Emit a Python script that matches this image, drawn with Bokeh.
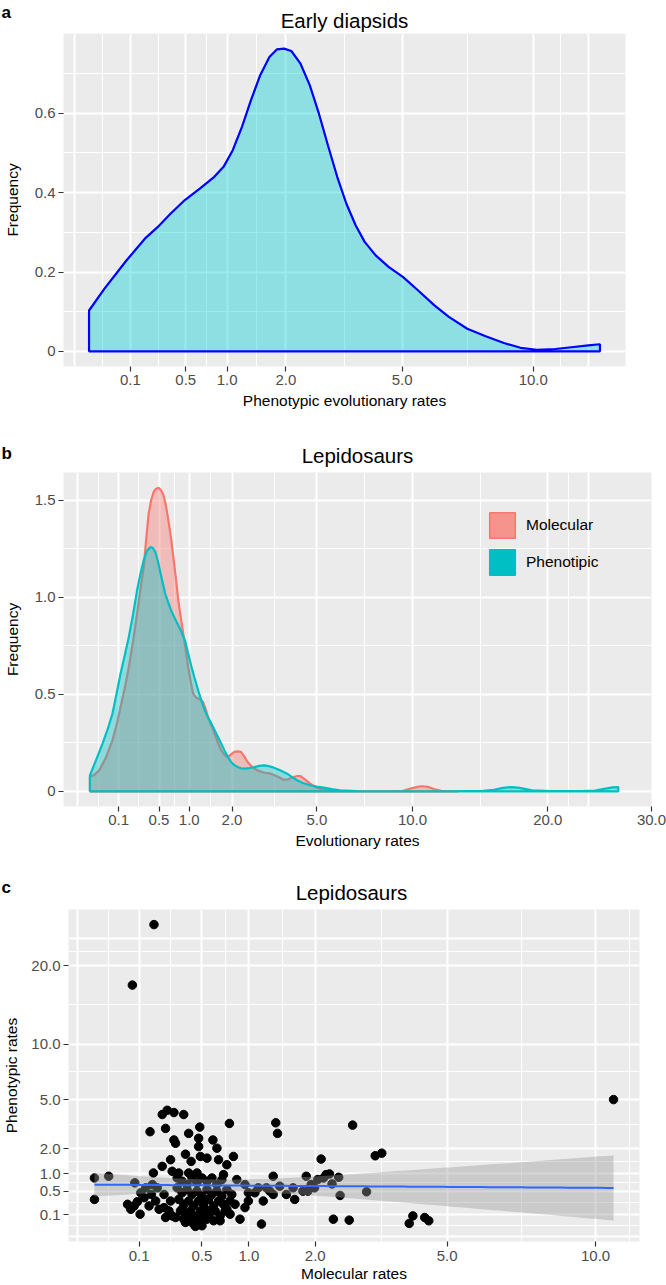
import numpy as np
from bokeh.plotting import figure
from bokeh.layouts import column
from bokeh.models import FixedTicker, CustomJSTickFormatter, Range1d, Legend, LegendItem
from bokeh.core.properties import value
from bokeh.embed import file_html
from bokeh.resources import INLINE

FONT = "Liberation Sans"

# ---------------- data ----------------
# (a) Early diapsids: density of phenotypic evolutionary rates
a_rate = [0.000576, 0.0177, 0.0829, 0.175, 0.258, 0.359, 0.494, 0.650, 0.826, 0.949,
          1.080, 1.219, 1.364, 1.520, 1.685, 1.823, 1.966, 2.111, 2.304, 2.506,
          2.716, 2.931, 3.158, 3.393, 3.637, 3.885, 4.198, 4.580, 5.031, 5.508,
          6.071, 6.584, 7.268, 7.986, 8.732, 9.437, 10.16, 11.01, 11.88, 12.61, 13.20]
a_freq = [0.103, 0.158, 0.229, 0.284, 0.313, 0.347, 0.382, 0.410, 0.440, 0.465,
          0.507, 0.566, 0.633, 0.696, 0.742, 0.761, 0.763, 0.757, 0.725, 0.671,
          0.599, 0.519, 0.440, 0.372, 0.318, 0.276, 0.242, 0.213, 0.187, 0.154,
          0.116, 0.087, 0.057, 0.038, 0.021, 0.009, 0.004, 0.006, 0.011, 0.015, 0.018]

# (b) Lepidosaurs: density of molecular and phenotypic rates
b_mol_rate = [0.00144, 0.0064, 0.0164, 0.0361, 0.0655, 0.090, 0.1122, 0.1406, 0.1722, 0.207,
              0.245, 0.2777, 0.3125, 0.3399, 0.3684, 0.3982, 0.429, 0.461, 0.4942, 0.5285,
              0.564, 0.6006, 0.6368, 0.6757, 0.7157, 0.7569, 0.7992, 0.8427, 0.8874, 0.9332,
              0.9801, 1.0282, 1.0774, 1.1278, 1.1794, 1.2321, 1.286, 1.341, 1.397, 1.474,
              1.5525, 1.633, 1.716, 1.798, 1.885, 1.974, 2.065, 2.158, 2.253, 2.350,
              2.449, 2.592, 2.759, 2.958, 3.201, 3.4225, 3.671, 3.842, 4.048, 4.182,
              4.310, 4.494, 4.718, 4.973, 5.29, 5.76, 6.864, 8.41, 9.425, 9.923,
              10.37, 10.63, 10.96, 11.36, 11.83, 12.96]
b_mol_freq = [0.074, 0.085, 0.108, 0.17, 0.263, 0.35, 0.435, 0.53, 0.641, 0.77,
              0.916, 1.04, 1.156, 1.3, 1.431, 1.5, 1.543, 1.56, 1.565, 1.552,
              1.526, 1.47, 1.397, 1.31, 1.208, 1.1, 0.985, 0.895, 0.813, 0.725,
              0.641, 0.565, 0.503, 0.485, 0.478, 0.472, 0.46, 0.425, 0.383, 0.34,
              0.297, 0.25, 0.211, 0.188, 0.177, 0.19, 0.203, 0.206, 0.203, 0.18,
              0.151, 0.125, 0.108, 0.097, 0.091, 0.078, 0.06, 0.062, 0.074, 0.079,
              0.079, 0.062, 0.04, 0.02, 0.009, 0.003, 0.0005, 0.0003, 0.003, 0.015,
              0.024, 0.026, 0.023, 0.012, 0.003, 0.0003]
b_phe_rate = [0.00144, 0.01, 0.0256, 0.0441, 0.0655, 0.087, 0.1122, 0.1406, 0.1722, 0.207,
              0.245, 0.2777, 0.3125, 0.3493, 0.3881, 0.4186, 0.4502, 0.483, 0.517, 0.552,
              0.5883, 0.6384, 0.6906, 0.743, 0.7992, 0.8575, 0.9178, 0.9801, 1.0445, 1.1109,
              1.1794, 1.25, 1.3225, 1.397, 1.4738, 1.5525, 1.633, 1.716, 1.798, 1.885,
              1.974, 2.065, 2.158, 2.253, 2.35, 2.496, 2.654, 2.812, 2.976, 3.133,
              3.312, 3.534, 3.795, 4.0, 4.178, 4.41, 4.718, 4.973, 5.29, 5.664,
              6.052, 6.864, 9.0, 12.25, 14.82, 15.6, 16.32, 17.02, 17.64, 18.66,
              20.25, 23.04, 24.3, 25.2, 26.01, 26.58]
b_phe_freq = [0.082, 0.165, 0.246, 0.32, 0.4, 0.5, 0.607, 0.7, 0.796, 0.91,
              1.036, 1.12, 1.191, 1.24, 1.259, 1.255, 1.234, 1.19, 1.131, 1.075,
              1.019, 0.97, 0.924, 0.89, 0.856, 0.82, 0.778, 0.71, 0.641, 0.58,
              0.521, 0.467, 0.418, 0.38, 0.349, 0.315, 0.28, 0.245, 0.211, 0.178,
              0.151, 0.135, 0.125, 0.119, 0.117, 0.12, 0.125, 0.131, 0.134, 0.13,
              0.122, 0.108, 0.091, 0.072, 0.057, 0.043, 0.031, 0.025, 0.019, 0.011,
              0.005, 0.001, 0.0003, 0.0003, 0.002, 0.008, 0.018, 0.022, 0.018, 0.005,
              0.0005, 0.0005, 0.004, 0.013, 0.02, 0.022]

# (c) Lepidosaurs: molecular vs phenotypic rates per branch
c_mol_rate = [0.167, 0.075, 10.72,
              0.0014, 0.0014, 0.0159, 0.0835, 0.0595, 0.0697, 0.0812, 0.1063, 0.1204, 0.1037,
              0.1429, 0.1756, 0.164, 0.1475, 0.2116, 0.2411, 0.2841, 0.3528, 0.2314, 0.2841,
              0.2948, 0.3906, 0.4816, 0.472, 0.472, 0.6022, 0.6416, 0.7726, 1.364, 1.39,
              0.2621, 0.366, 0.4096, 0.2116, 0.2725, 0.317, 0.3906, 0.4583, 0.5461, 0.4872,
              0.6577, 0.7448, 0.8172, 0.709, 0.8556, 0.2218, 0.2314, 0.2725, 0.366, 0.4303,
              0.5013, 0.5155, 0.7448, 0.893, 0.9526, 0.994, 1.077, 1.164, 1.188, 1.327,
              1.327, 1.523, 1.654, 1.844, 1.871, 1.121, 0.9526, 0.994, 1.232, 0.1274,
              0.1537, 0.093, 1.279, 1.423, 1.628, 1.788,
              0.306, 0.341, 0.378, 0.417, 0.458, 0.501, 0.546, 0.593, 0.641, 0.692,
              0.306, 0.341, 0.378, 0.417, 0.458, 0.501, 0.546, 0.593, 0.641, 0.692, 0.745, 0.799,
              0.317, 0.353, 0.391, 0.430, 0.472, 0.516, 0.561, 0.609, 0.658, 0.709, 0.780, 0.836,
              0.329, 0.366, 0.404, 0.445, 0.487, 0.531, 0.577, 0.624, 0.674, 0.726, 0.780,
              0.353, 0.404, 0.458, 0.487, 0.546, 0.609, 0.674, 0.445, 0.501,
              0.252, 0.295, 0.341, 0.391, 0.430, 0.472, 0.516, 0.561, 0.609, 0.194,
              0.262, 0.222, 0.184, 0.159,
              1.929, 1.988, 2.105, 2.149, 2.196, 2.259, 2.307, 2.434, 2.462, 2.713,
              3.007, 3.197, 3.345, 2.332, 2.644, 4.0, 4.092, 4.397, 4.503, 2.045]
c_phe_rate = [26.6, 17.2, 5.0,
              0.861, 0.325, 0.914, 0.716, 0.238, 0.164, 0.2125, 0.4638, 0.3576, 0.1043,
              0.2125, 0.2948, 1.022, 2.89, 3.948, 4.235, 4.08, 3.948, 3.08, 2.44,
              2.271, 2.796, 3.158, 2.528, 2.108, 2.44, 2.031, 3.378, 3.419, 2.796,
              1.518, 1.756, 1.45, 1.259, 1.08, 1.022, 1.022, 1.022, 1.585, 1.656,
              1.518, 1.32, 1.656, 0.968, 0.812, 0.1875, 0.0718, 0.087, 0.0342, 0.025,
              0.0454, 0.1043, 0.164, 0.0576, 0.1875, 0.2948, 0.4638, 0.025, 0.2948, 0.4264,
              0.914, 0.4264, 0.325, 0.914, 0.5013, 0.5822, 0.6691, 0.4638, 0.5822, 0.5822,
              0.4264, 0.283, 0.5013, 0.6257, 0.5822, 0.5013,
              0.861, 0.762, 0.669, 0.861, 0.716, 0.861, 0.762, 0.861, 0.669, 0.808,
              0.582, 0.464, 0.540, 0.426, 0.501, 0.392, 0.540, 0.426, 0.501, 0.392, 0.540, 0.426,
              0.325, 0.238, 0.295, 0.213, 0.295, 0.238, 0.325, 0.213, 0.295, 0.238, 0.295, 0.238,
              0.143, 0.104, 0.143, 0.087, 0.143, 0.164, 0.1225, 0.143, 0.087, 0.143, 0.104,
              0.0576, 0.0454, 0.0718, 0.025, 0.0576, 0.0454, 0.0454, 0.0142, 0.0169,
              0.143, 0.0718, 0.164, 0.087, 0.0576, 0.0342, 0.0576, 0.087, 0.164, 0.164,
              0.295, 0.426, 0.582, 0.669,
              0.669, 0.582, 1.545, 0.861, 0.968, 0.990, 0.687, 0.882, 0.404, 3.276,
              0.486, 1.685, 1.801, 0.0576, 0.0502, 0.0286, 0.087, 0.0718, 0.0454, 0.812]

# tick labels
x_ticks_a = [0.1, 0.5, 1.0, 2.0, 5.0, 10.0]
y_ticks_a = [0, 0.2, 0.4, 0.6]
x_ticks_b = [0.1, 0.5, 1.0, 2.0, 5.0, 10.0, 20.0, 30.0]
y_ticks_b = [0, 0.5, 1.0, 1.5]
x_ticks_c = [0.1, 0.5, 1.0, 2.0, 5.0, 10.0]
y_ticks_c = [0.1, 0.5, 1.0, 2.0, 5.0, 10.0, 20.0]

panel_letters = ["a", "b", "c"]
panel_titles = ["Early diapsids", "Lepidosaurs", "Lepidosaurs"]

# ---------------- styling constants ----------------
PANEL_BG = "#EBEBEB"
MOL = "#F8766D"
PHE = "#00BFC4"
W = 666
LEFT = 63


def pair(xv, yv):
    n = min(len(xv), len(yv))
    return np.asarray(xv[:n], float), np.asarray(yv[:n], float)


def expand(v, lo=None, hi=None, f=0.05):
    v = np.asarray(v, float)
    mn = v.min() if lo is None else lo
    mx = v.max() if hi is None else hi
    span = mx - mn
    return mn - f * span, mx + f * span


def sqrt_grid(ticks, lo_extra, hi_extra):
    maj = [lo_extra] + [float(np.sqrt(t)) for t in ticks] + [hi_extra]
    mnr = [(maj[i] + maj[i + 1]) / 2 for i in range(len(maj) - 1)]
    return maj, mnr


def no_align(p):
    if "frame_align" in p.properties():
        p.frame_align = False
    return p


SQRT_FMT = "return (tick*tick).toFixed(1);"
LIN_FMT = "return (Math.abs(tick) < 1e-9) ? '0' : tick.toFixed(1);"


def make_fig(height, xr, yr, bottom, right):
    p = figure(width=W, height=height, x_range=Range1d(*xr), y_range=Range1d(*yr),
               output_backend="svg", toolbar_location=None,
               min_border_left=LEFT, min_border_right=right,
               min_border_top=0, min_border_bottom=bottom)
    p.background_fill_color = PANEL_BG
    p.border_fill_color = "white"
    p.outline_line_color = None
    return no_align(p)


def header(height, letter, title, title_cx, letter_base, title_cy):
    """Strip above a panel holding its letter and title (y measured from strip top)."""
    h = figure(width=W, height=height, x_range=Range1d(0, W), y_range=Range1d(0, height),
               output_backend="svg", toolbar_location=None,
               min_border_left=0, min_border_right=0, min_border_top=0, min_border_bottom=0,
               x_axis_type=None, y_axis_type=None)
    no_align(h)
    h.outline_line_color = None
    h.grid.visible = False
    h.background_fill_color = "white"
    h.border_fill_color = "white"
    h.text(x=[1], y=[height - letter_base], text=[letter], text_font=value(FONT),
           text_font_size="17px", text_font_style="bold", text_color="black",
           text_align="left", text_baseline="alphabetic")
    h.text(x=[title_cx], y=[height - title_cy], text=[title], text_font=value(FONT),
           text_font_size="20.5px", text_color="black",
           text_align="center", text_baseline="middle")
    return h


def style_axes(p, xlabel, ylabel, xticks, xfmt, yticks, yfmt, xgrid, ygrid,
               x_lab_st=3, x_title_st=4, y_lab_st=3, y_title_st=11):
    xa, ya = p.xaxis[0], p.yaxis[0]
    xa.ticker = FixedTicker(ticks=xticks, minor_ticks=[])
    ya.ticker = FixedTicker(ticks=yticks, minor_ticks=[])
    xa.formatter = CustomJSTickFormatter(code=xfmt)
    ya.formatter = CustomJSTickFormatter(code=yfmt)
    for ax in (xa, ya):
        ax.axis_line_color = None
        ax.major_tick_line_color = "#333333"
        ax.major_tick_line_width = 1.2
        ax.major_tick_out = 5
        ax.major_tick_in = 0
        ax.minor_tick_line_color = None
        ax.major_label_text_font = FONT
        ax.major_label_text_font_size = "15px"
        ax.major_label_text_color = "#4D4D4D"
        ax.axis_label_text_font = FONT
        ax.axis_label_text_font_size = "15.5px"
        ax.axis_label_text_font_style = "normal"
        ax.axis_label_text_color = "black"
    xa.axis_label = xlabel
    ya.axis_label = ylabel
    xa.major_label_standoff = x_lab_st
    xa.axis_label_standoff = x_title_st
    ya.major_label_standoff = y_lab_st
    ya.axis_label_standoff = y_title_st
    gx, gy = p.xgrid[0], p.ygrid[0]
    gx.ticker = FixedTicker(ticks=xgrid[0], minor_ticks=xgrid[1])
    gy.ticker = FixedTicker(ticks=ygrid[0], minor_ticks=ygrid[1])
    for g in (gx, gy):
        g.grid_line_color = "white"
        g.grid_line_width = 2
        g.minor_grid_line_color = "white"
        g.minor_grid_line_width = 1


def closed_polygon(u, f):
    xs = np.concatenate([[u[0]], u, [u[-1]]])
    ys = np.concatenate([[0.0], f, [0.0]])
    return xs, ys


# ---------------- panel a ----------------
RIGHT_A = 41
ha = header(33, panel_letters[0], panel_titles[0], (LEFT + W - RIGHT_A) / 2, 11.7, 20)
ra, fa_ = pair(a_rate, a_freq)
ua = np.sqrt(ra)
fa = make_fig(397, expand(ua), expand(fa_, lo=0.0), 64, RIGHT_A)
style_axes(fa, "Phenotypic evolutionary rates", "Frequency",
           [float(np.sqrt(t)) for t in x_ticks_a], SQRT_FMT, y_ticks_a, LIN_FMT,
           sqrt_grid(x_ticks_a, -0.08, 3.55),
           (y_ticks_a, [0.1, 0.3, 0.5, 0.7]))
px, py = closed_polygon(ua, fa_)
fa.patch(px, py, fill_color="#00CED1", fill_alpha=0.4, line_color="#0000FF", line_width=2.2)

# ---------------- panel b ----------------
RIGHT_B = 15
hb = header(42, panel_letters[1], panel_titles[1], (LEFT + W - RIGHT_B) / 2, 23.3, 25)
rm, fm = pair(b_mol_rate, b_mol_freq)
rp, fp = pair(b_phe_rate, b_phe_freq)
um, up = np.sqrt(rm), np.sqrt(rp)
xb0, _ = expand(np.concatenate([um, up]))
fb = make_fig(396, (xb0, float(np.sqrt(30.0)) + 1e-9),
              expand(np.concatenate([fm, fp]), lo=0.0), 62, RIGHT_B)
style_axes(fb, "Evolutionary rates", "Frequency",
           [float(np.sqrt(t)) for t in x_ticks_b], SQRT_FMT, y_ticks_b, LIN_FMT,
           sqrt_grid(x_ticks_b[:-1], -0.08, 4.87),
           (y_ticks_b, [0.25, 0.75, 1.25]),
           x_lab_st=3, x_title_st=4)
mx, my = closed_polygon(um, fm)
fb.patch(mx, my, fill_color=MOL, fill_alpha=0.4, line_color=MOL, line_width=2.2)
qx, qy = closed_polygon(up, fp)
fb.patch(qx, qy, fill_color=PHE, fill_alpha=0.4, line_color=PHE, line_width=2.2)
# legend keys (renderers with no drawable geometry, used only for the legend)
nan1 = np.array([np.nan])
k_mol = fb.patch(x=nan1, y=nan1, fill_color=MOL, fill_alpha=0.75, line_color=MOL, line_width=1.5)
k_phe = fb.patch(x=nan1, y=nan1, fill_color=PHE, fill_alpha=1.0, line_color=PHE, line_width=1.5)
leg = Legend(items=[LegendItem(label="Molecular", renderers=[k_mol]),
                    LegendItem(label="Phenotipic", renderers=[k_phe])],
             location=(423, 228), orientation="vertical",
             glyph_width=32, glyph_height=32, label_height=32, spacing=5,
             padding=0, margin=0, label_standoff=8,
             label_text_font=FONT, label_text_font_size="15.5px", label_text_color="black",
             background_fill_alpha=0.0, border_line_color=None)
fb.add_layout(leg)

# ---------------- panel c ----------------
RIGHT_C = 27
hc = header(41, panel_letters[2], panel_titles[2], (LEFT + W - RIGHT_C) / 2, 19.3, 24)
cm, cp = pair(c_mol_rate, c_phe_rate)
xs, ys = np.sqrt(cm), np.sqrt(cp)
fc = make_fig(375, expand(xs), expand(ys), 43, RIGHT_C)
style_axes(fc, "Molecular rates", "Phenotypic rates",
           [float(np.sqrt(t)) for t in x_ticks_c], SQRT_FMT,
           [float(np.sqrt(t)) for t in y_ticks_c], SQRT_FMT,
           sqrt_grid(x_ticks_c, -0.07, 3.58),
           sqrt_grid(y_ticks_c, -0.05, 4.93),
           x_lab_st=4, x_title_st=1, y_lab_st=3, y_title_st=8)
fc.scatter(xs, ys, size=8.5, fill_color="black", line_color="black")

# linear fit on the square-root scale with 95% confidence band
n = len(xs)
b1, b0 = np.polyfit(xs, ys, 1)
resid = ys - (b0 + b1 * xs)
s = np.sqrt(np.sum(resid ** 2) / (n - 2))
sxx = np.sum((xs - xs.mean()) ** 2)
xg = np.linspace(xs.min(), xs.max(), 80)
yhat = b0 + b1 * xg
se = s * np.sqrt(1.0 / n + (xg - xs.mean()) ** 2 / sxx)
tval = 1.97
fc.varea(x=xg, y1=yhat - tval * se, y2=yhat + tval * se, fill_color="#999999", fill_alpha=0.4)
fc.line(xg, yhat, line_color="#3366FF", line_width=2)

layout = column(ha, fa, hb, fb, hc, fc)
open("out.html", "w").write(file_html(layout, INLINE))
